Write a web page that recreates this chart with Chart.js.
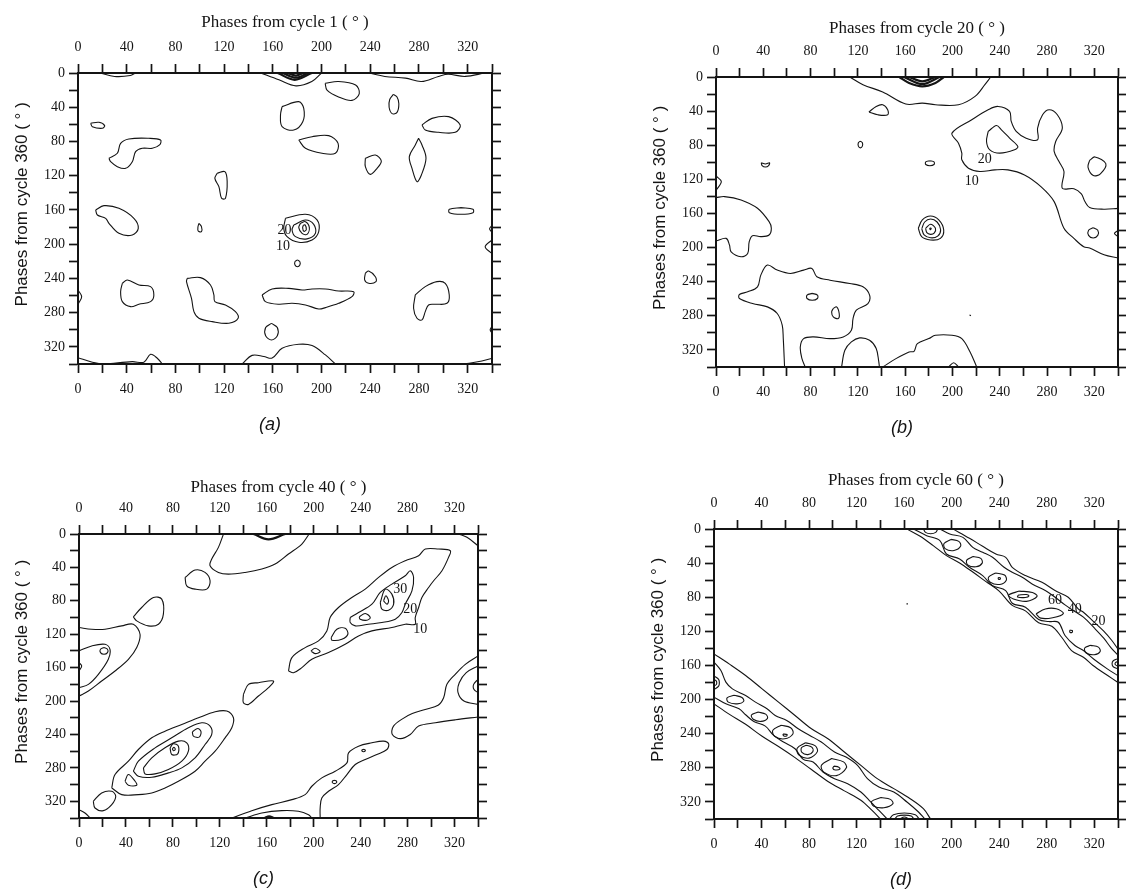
<!DOCTYPE html>
<html>
<head>
<meta charset="utf-8">
<script src="https://cdn.jsdelivr.net/npm/chart.js@4.4.1/dist/chart.umd.min.js"></script>
<style>
  html, body { margin: 0; padding: 0; background: #fff; }
  #wrap { position: relative; width: 1126px; height: 889px; overflow: hidden; background: #fff; }
  .panel { position: absolute; }
</style>
</head>
<body>
<div id="wrap">
  <div class="panel" id="p0"><canvas id="c0"></canvas></div>
  <div class="panel" id="p1"><canvas id="c1"></canvas></div>
  <div class="panel" id="p2"><canvas id="c2"></canvas></div>
  <div class="panel" id="p3"><canvas id="c3"></canvas></div>
</div>
<script>
// axes
const AXIS_MAX = 340;
const TICK_STEP = 20;
const LABEL_STEP = 40;
const topTitles = ['Phases from cycle 1 ( \u00b0 )', 'Phases from cycle 20 ( \u00b0 )',
                   'Phases from cycle 40 ( \u00b0 )', 'Phases from cycle 60 ( \u00b0 )'];
const sideTitle = 'Phases from cycle 360 ( \u00b0 )';
const captions = ['(a)', '(b)', '(c)', '(d)'];

// ---- panel (a): contours, [phase cycle 1, phase cycle 360] in degrees
const a01 = [[18,0],[30,4],[43,3],[47,0]];
const a02 = [[150,0],[165,8],[179,15],[192,10],[200,0]];
const a03 = [[164,0],[178,8],[192,0]];
const a04 = [[168,0],[179,5.5],[189,0]];
const a05 = [[172,0],[179,3],[185,0]];
const a06 = [[239,0],[252,4],[269,6],[282,10],[296,4],[304,1.5],[318,4],[334,0]];
const a07 = [[203,12],[214,10],[228,14],[231,24],[225,32],[214,28],[204.5,20],[203,12]];
const a08 = [[259,25],[262,28],[263.5,36],[262,46],[258,47.5],[255.5,40],[256,31],[259,25]];
const a09 = [[167.6,39.3],[181.3,33.5],[185.4,41.3],[184.6,56.9],[177.2,66.6],[167.6,62.7],[166.3,49.1],[167.6,39.3]];
const a10 = [[282.5,60.7],[290.7,53],[304.4,51],[313.9,60.7],[309.8,69.3],[296.1,69.3],[285.2,66.6],[282.5,60.7]];
const a11 = [[10.4,58.8],[17.2,57.6],[21.9,61.5],[20,64.6],[11.8,62.7],[10.4,58.8]];
const a12 = [[25.4,99.7],[32.3,93.8],[35,82.2],[41.8,77.1],[58.2,76.3],[67.8,78.3],[67,84.1],[61,88],[52.8,88],[47.3,91.9],[44.6,103.6],[39.1,111.4],[32.3,109.4],[26.8,103.6],[25.4,99.7]];
const a13 = [[181.3,78.3],[192.2,74.4],[205.9,73.2],[213.6,82.2],[211.4,93.8],[200.4,93.8],[186.8,88],[181.3,78.3]];
const a14 = [[236,99.7],[244.2,95.8],[249.1,102.8],[245.6,111.4],[240.1,118.4],[236,109.4],[236,99.7]];
const a15 = [[279.7,76.3],[282.5,84.1],[285.8,99.7],[282,119.2],[278.4,126.9],[274.3,111.4],[272.1,97.7],[277,84.1],[279.7,76.3]];
const a16 = [[114.3,117.2],[120.6,115.3],[122.5,126.9],[121.1,146.4],[117.9,146.4],[115.7,132.8],[112.4,123.1],[114.3,117.2]];
const a17 = [[14.5,160],[21.3,155],[33.6,158.1],[45.9,169.8],[49.5,181.5],[44.6,189.3],[33.6,187.3],[25.4,175.6],[22.7,169.8],[15.9,165.9],[14.5,160]];
const a18 = [[99.3,175.6],[101.4,179.5],[101.4,185.4],[98.7,184.6],[98.5,180],[99.3,175.6]];
const a19 = [[170.4,169.8],[186.8,165.1],[196.3,171.7],[197.7,185.4],[192.2,195.1],[181.3,197.8],[171.7,191.2],[169,181.5],[170.4,169.8]];
const a20 = [[177.2,177.6],[186.8,171.7],[193.6,176.8],[195,187.3],[188.1,193.8],[178.6,191.2],[175.8,183.4],[177.2,177.6]];
const a21 = [[182.7,175.6],[186.8,173.7],[190,180.7],[188.1,188.5],[184,187.3],[181.3,180.7],[182.7,175.6]];
const a22 = [[185,178],[186.5,177.5],[187.5,183],[185.5,185],[184.5,181],[185,178]];
const a23 = [[180.2,218.4],[182.2,220.4],[182.2,224.4],[180.2,226.4],[178.2,224.4],[178.2,220.4],[180.2,218.4]];
const a24 = [[36.4,245.7],[40.5,241.8],[50,247.7],[59.6,249.6],[62.3,259.3],[59.6,267.1],[50,270.2],[43.2,273],[36.4,267.1],[35,255.5],[36.4,245.7]];
const a25 = [[89.7,239.9],[100.6,239.1],[108.8,247.7],[111.6,259.3],[112.4,267.1],[121.1,271],[129.3,278.8],[131.5,286.6],[123.9,292.4],[110.2,290.5],[99.3,286.6],[95.2,278.8],[93.2,263.2],[89.1,243.8],[89.7,239.9]];
const a26 = [[151.2,259.3],[159.4,252.3],[173.1,251.6],[184,253.5],[192.2,252.3],[203.2,252.3],[214.1,254.7],[226.4,255.5],[225,261.3],[214.1,269.1],[203.2,274.1],[197.7,275.7],[186.8,271],[175.8,269.1],[164.9,270.2],[153.9,267.1],[151.2,259.3]];
const a27 = [[236,234],[238.7,231.3],[244.2,238],[244.7,243.8],[238.7,245.7],[235.4,241.8],[236,234]];
const a28 = [[277,259.3],[285.2,249.6],[294.8,243.8],[301.6,245.7],[304.9,259.3],[303,269.1],[293.4,270.2],[287.9,271],[285.2,278.8],[282.5,288.5],[278.4,286.6],[275.6,274.9],[277,259.3]];
const a29 = [[158.9,292.5],[163.7,297.4],[163.7,307],[158.9,311.9],[154.1,307],[154.1,297.4],[158.9,292.5]];
const a30 = [[134.8,340],[143,329.9],[152.6,331.2],[159.4,333.1],[167.6,321.7],[181.3,317],[192.2,318.5],[203.2,329.4],[211.4,340]];
const a31 = [[0,332.6],[11.8,338],[20,340]];
const a32 = [[26.8,339.5],[44.6,337.2],[54.1,338],[59.6,328.7],[65.1,333.3],[69.2,340]];
const a33 = [[319.4,339.5],[331.7,336.4],[340,333.3]];
const a34 = [[340,178],[338,182],[340,186]];
const a35 = [[340,195],[334.4,203],[340,211]];
const a36 = [[340,296],[338.5,300],[340,304]];
const a37 = [[0,253.5],[3,261.3],[0.5,269]];
const a38 = [[314.7,157.3],[324.4,159.2],[324.4,163.2],[314.7,165.1],[305,163.2],[305,159.2],[314.7,157.3]];
const labelsA = [{t:'20', x:169.5, y:184}, {t:'10', x:168.4, y:202}];

// ---- panel (b)
const b01 = [[113.2,0],[124.3,9],[141,17.6],[160.5,31.7],[174.5,30.6],[185.6,32.5],[205.1,32.5],[219.1,22.7],[227.4,9],[232.4,0]];
const b02 = [[155,0],[163.3,7],[174.5,11],[185.6,7],[192.6,0]];
const b03 = [[159,0],[174.5,8.2],[189,0]];
const b04 = [[163.3,0],[174.5,5.1],[185.6,0]];
const b05 = [[129.3,41.1],[135.5,34.5],[141,32.5],[145.2,38.4],[145.2,44.3],[136.8,44.3],[129.3,41.1]];
const b06 = [[122.1,75.1],[123.8,77.1],[123.8,81.1],[122.1,83.1],[120.4,81.1],[120.4,77.1],[122.1,75.1]];
const b07 = [[38.3,100.5],[41.8,102],[45.3,100.5],[44.5,104],[41.8,105.6],[39,104],[38.3,100.5]];
const b08 = [[180.9,98.1],[184.4,99.6],[184.4,102.6],[180.9,104.1],[177.4,102.6],[177.4,99.6],[180.9,98.1]];
const b09 = [[171.1,177.4],[174.5,167.6],[181.4,163],[188.4,167.6],[192.6,179.4],[189.8,189.2],[181.4,191.1],[173.9,187.2],[171.1,177.4]];
const b10 = [[174,178],[176.5,170],[181.5,166.5],[187,170],[190,179],[187.5,186.5],[181.5,188.5],[176,185],[174,178]];
const b11 = [[177.3,177.4],[181.4,172.7],[185.6,177.4],[184.5,183],[181.4,184.5],[178.3,182.5],[177.3,177.4]];
const b12 = [[181,177],[182,177.5],[181.5,179],[180.8,178],[181,177]];
const b13 = [[0,116],[4.5,122.6],[0,133]];
const b14 = [[0,141.4],[7.2,140.2],[21.2,144.1],[35.1,153.9],[44.9,169.6],[46.8,177.4],[44.9,185.3],[37.9,187.2],[30.9,186.1],[28.1,193.1],[26.8,206.8],[21.2,210.7],[12.8,204.9],[11.4,197],[8.6,189.2],[0,192.3]];
const b15 = [[340,154],[328,155],[316,153],[312,146],[309,137],[302.7,131],[292.9,130.4],[294.3,110.8],[290.1,99.1],[286,87.3],[287.3,75.6],[292.9,59.9],[288.7,44.3],[281.8,38.4],[276.2,44.3],[272,59.9],[272,73.6],[262.3,71.7],[253.9,63.8],[249.7,52.1],[248.3,40.3],[238.6,34.5],[230.2,38.4],[216.3,50.1],[199.6,65.8],[205.1,77.6],[207.9,89.3],[207.9,97.1],[213.5,106.9],[223.2,110.8],[235.8,108.9],[246.9,108.9],[260.9,114.8],[274.8,128.5],[286,146.1],[294.3,177.4],[302.7,189.2],[311,199],[316,200.5],[328.2,208.4],[340,212.3]];
const b16 = [[230.2,63.8],[237.2,56.8],[241.4,61.9],[248.3,71.7],[255.3,81.5],[252.5,85.4],[240,89.3],[231.6,85.4],[228.8,75.6],[230.2,63.8]];
const b17 = [[316,97.7],[320.5,93.7],[329.7,101.6],[325.1,113.5],[319.1,115.5],[314.6,105.6],[316,97.7]];
const b18 = [[319,176.7],[322.9,179.7],[322.9,185.7],[319,188.7],[315.1,185.7],[315.1,179.7],[319,176.7]];
const b19 = [[340,180],[337,183.5],[340,187]];
const b20 = [[58,340],[56.9,306.7],[56,291],[51.8,277.3],[43.5,269.5],[30.9,265.6],[19.8,259.7],[19.8,255],[26.8,251.9],[35.1,246],[37.9,232.3],[43.5,220.5],[51.8,226.4],[63,230.3],[74.1,226.4],[81.1,224.4],[85.3,234.2],[96.4,238.2],[113.2,242.1],[124.3,246],[129.9,255.8],[128.5,265.6],[118.7,273.4],[115.9,283.2],[114.5,296.9],[107.6,304.7],[96.4,306.7],[82.5,304.7],[74.1,306.7],[71.3,316.5],[72.7,330.2],[75.5,340]];
const b21 = [[81.4,253.7],[85.8,255.7],[85.8,259.7],[81.4,261.7],[77,259.7],[77,255.7],[81.4,253.7]];
const b22 = [[99.2,271.4],[102,269.5],[104.2,277.3],[103.4,283.2],[99.2,281.2],[97.8,275.4],[99.2,271.4]];
const b23 = [[106.2,340],[109,320.4],[114.5,310.6],[121.5,305.9],[129.9,308.7],[135.5,318.4],[137.7,334.1],[138.2,340]];
const b24 = [[141,340],[152.2,330.2],[163.3,322.4],[167.5,321.6],[170.3,312.6],[180,306.7],[185.6,302.8],[199.6,302.8],[207.9,306.7],[214.9,322.4],[220.5,340]];
const b25 = [[196.8,340],[201,335],[205.1,340]];
const b26 = [[214.4,279],[215.6,279.8]];
const labelsB = [{t:'20', x:227.4, y:96}, {t:'10', x:216.3, y:121.8}];

// ---- panel (c)
const c01 = [[148.7,0],[161.5,6.4],[175.7,0]];
const c02 = [[123.1,0],[118.8,16],[113.1,30],[111.7,38],[118.8,46],[127.3,48],[141.6,46],[155.8,42],[167.1,36],[178.5,24],[189.9,12],[196.1,0]];
const c03 = [[90.4,52],[98.9,43.2],[107.4,46],[111.7,56],[108.9,66],[98.9,66],[91.8,62],[90.4,52]];
const c04 = [[323.5,0],[330.6,4],[340,14]];
const c05 = [[178.5,164],[181.4,148],[192.7,136],[204.1,128],[211.2,116],[214,100],[221.1,88],[232.5,76],[243.9,66],[255.3,52],[266.6,40],[278,32],[289.4,26],[295.1,18],[306.4,18],[316.4,20],[314.9,28],[309.3,44],[302.2,56],[297.9,64],[292.2,76],[289.4,88],[286.5,100],[286.5,108],[278,108],[266.6,112],[249.6,116],[238.2,122],[226.8,132],[212.6,142],[198.4,150],[189.9,160],[182.8,166],[178.5,164]];
const c06 = [[231.1,100],[238.2,94],[249.6,84],[256.7,70],[266.6,60],[278,50],[282.3,44],[285.1,52],[283.7,68],[278,84],[275.2,94],[269.5,102],[258.1,106],[246.7,108],[235.4,110],[231.1,106],[231.1,100]];
const c07 = [[256.7,82],[261,66],[266.6,72],[268.1,84],[263.8,91.2],[258.1,90],[256.7,82]];
const c08 = [[259.5,80],[261.5,74],[263.8,80],[262.4,84],[259.5,80]];
const c09 = [[238.8,99.2],[243.9,95.2],[248.2,100],[245.3,103.2],[239.6,102],[238.8,99.2]];
const c10 = [[214.9,124],[219.7,114],[226.8,112.8],[229.1,120],[224,126],[215.5,127.2],[214.9,124]];
const c11 = [[197.6,140],[201.2,136.8],[205.5,140.8],[201.2,143.2],[197.6,140]];
const c12 = [[140.1,192],[144.4,180],[152.9,178],[165.7,176],[161.5,184],[152.9,194],[144.4,204],[140.1,202],[140.1,192]];
const c13 = [[46.3,99.2],[53.4,88],[63.4,76],[70.5,78],[71.9,96],[67.7,108],[59.1,110],[49.2,104],[46.3,99.2]];
const c14 = [[0,112],[10.8,114],[22.2,114],[36.4,110],[46.3,108],[52,120],[49.2,136],[42.1,150],[30.7,164],[19.3,176],[8,188],[0,194]];
const c15 = [[0,140],[10.8,134],[22.2,132],[26.4,138],[25,150],[16.5,168],[8,180],[0,184]];
const c16 = [[21.3,136],[24.3,138],[24.3,142],[21.3,144],[18.3,142],[18.3,138],[21.3,136]];
const c17 = [[0,154],[2.3,158],[0,164]];
const c18 = [[27.9,304],[30.7,288],[42.1,272],[50.6,258],[62,244],[73.3,236],[87.6,228],[101.8,220],[116,212.8],[125.9,212],[131.6,220],[130.2,232],[124.5,244],[116,260],[107.4,272],[98.9,284],[84.7,296],[73.3,304],[62,310],[50.6,312],[36.4,312],[27.9,304]];
const c19 = [[46.3,284],[50.6,272],[64.8,256],[79,244],[93.2,232],[104.6,226],[111.7,230],[113.1,240],[107.4,252],[98.9,268],[87.6,280],[76.2,286],[62,291.2],[50.6,290],[46.3,284]];
const c20 = [[54.9,280],[62,268],[73.3,256],[84.7,248],[91.8,250],[93.2,260],[87.6,272],[76.2,282],[64.8,287.2],[56.3,287.2],[54.9,280]];
const c21 = [[77.6,256],[80.4,251.2],[84.7,254],[84.1,263.2],[79,264],[77.6,256]];
const c22 = [[79.5,257],[81,255.5],[82,258],[80.5,259.5],[79.5,257]];
const c23 = [[96.6,236.8],[101.2,232.8],[104,236.8],[102.3,243.2],[97.5,242],[96.6,236.8]];
const c24 = [[39.2,296],[42.1,288],[47.8,296],[49.2,300.8],[42.1,300.8],[39.2,296]];
const c25 = [[12.2,320],[19.3,310],[27.9,308],[31.3,314],[27.9,324],[20.7,331.2],[13.6,328],[12.2,320]];
const c26 = [[0,330],[5.1,334],[9.4,340]];
const c27 = [[130.2,340],[147.2,331.2],[164.3,324],[181.4,318],[192.7,312],[198.4,302],[206.9,292],[218.3,284],[228.3,274],[229.7,262],[238.2,254],[249.6,250],[259.5,248],[263.8,251.2],[262.4,258],[253.8,264],[243.9,270],[235.4,276],[228.3,288],[221.1,300],[212.6,308],[206.9,316],[205.5,328],[205.5,340]];
const c28 = [[141.6,340],[155.8,334],[172.8,331.2],[187,332],[195.6,336],[198.4,340]];
const c29 = [[158,340],[162,338],[166,340]];
const c30 = [[217.7,294.8],[219.4,295.8],[219.4,297.8],[217.7,298.8],[216,297.8],[216,295.8],[217.7,294.8]];
const c31 = [[242.5,257.7],[243.8,258.5],[243.8,260],[242.5,260.7],[241.2,260],[241.2,258.5],[242.5,257.7]];
const c32 = [[340,146],[329.2,156],[320.6,168],[313.5,180],[310.7,196],[306,205],[295,210],[284,215],[276,221],[268,230],[267,240],[274,245],[282.3,240],[289.4,230],[303.7,226],[320.9,222.4],[340,219]];
const c33 = [[340,174],[336.3,180],[336.5,186],[340,190]];
const c34 = [[340,158],[330,166],[324,178],[323,190],[328,200],[340,204]];
const labelsC = [{t:'30', x:273.7, y:66}, {t:'20', x:282.3, y:90}, {t:'10', x:290.8, y:114}];

// ---- panel (d)
const d01 = [[0,146.4],[12.7,158.1],[26.6,171.7],[40.5,187.4],[54.3,203],[68.2,218.6],[82,234.2],[95.9,245.9],[109.7,261.5],[123.6,277.1],[137.4,292.7],[151.3,304.4],[165.1,316.2],[176.2,327.9],[182.3,340]];
const d02 = [[0,205],[12.7,217],[26.6,229],[40.5,243],[54.3,255],[68.2,268],[82,282],[95.9,296],[109.7,307],[123.6,318],[133,330],[140.2,340]];
const d03 = [[0,156.1],[5.8,165.9],[10,179.5],[15.5,187.4],[26.6,195.2],[34.9,203],[44.6,210.8],[51.5,218.6],[61.2,224.4],[70.9,234.2],[80.6,242],[90.3,249.8],[101.4,261.5],[111.1,267.4],[120.8,277.1],[129.1,292.7],[138.8,302.5],[151.3,308.4],[162.4,320.1],[172.1,331.8],[177.6,340]];
const d04 = [[0,197.1],[10,204.9],[21.1,210.8],[26.6,217.8],[33.5,225.6],[43.2,231.1],[50.2,242],[58.5,249.8],[68.2,257.6],[75.1,270.1],[83.4,273.2],[91.7,284.9],[101.4,292.7],[112.5,298.6],[123.6,308.4],[131.9,320],[138.8,330],[145.7,340]];
const d05 = [[17,195],[23.5,197.5],[25,202],[19.5,205],[12,203],[11,198],[17,195]];
const d06 = [[37,214.6],[43.5,217],[45,222],[39.5,225.6],[33,223],[31.5,218],[37,214.6]];
const d07 = [[56.5,230],[64.5,233],[66.5,240],[59.5,246],[51,243],[49.5,236],[56.5,230]];
const d08 = [[58,240.3],[61.5,241],[61,242.8],[58.5,242.3],[58,240.3]];
const d09 = [[77,250.6],[85,254],[87,261],[80,268.6],[71.5,265],[70,257],[77,250.6]];
const d10 = [[77.7,253.5],[82.5,256],[83.2,261],[79,264.5],[74,262],[73.6,256.5],[77.7,253.5]];
const d11 = [[99,269.1],[109,273],[111.4,280],[103,289.1],[92.5,285],[90.4,277],[99,269.1]];
const d12 = [[101,278],[105,279.2],[106,281.5],[102,282.5],[100,280.5],[101,278]];
const d13 = [[140.5,314.8],[148.5,317],[150.6,322],[143,326.8],[134.5,325],[132.6,319.5],[140.5,314.8]];
const d14 = [[0,172.3],[3.9,176.3],[4.5,180.3],[3.9,184.3],[0,188.3]];
const d15 = [[0,176.5],[2,178.3],[2.3,180.3],[2,182.3],[0,184]];
const d16 = [[147.7,340],[151,335],[160.2,333],[169.4,335],[172.7,340]];
const d17 = [[152.2,340],[154.5,336.5],[160.2,335.5],[166,336.5],[168.2,340]];
const d18 = [[156.2,340],[160.2,337.6],[164.2,340]];
const d19 = [[201.2,0],[215,10.9],[226.1,20.3],[237.2,29.3],[245.5,33.2],[251,44.9],[262.1,54.6],[276,62.5],[287,72.2],[298.1,80],[306.5,93.7],[310.9,97.6],[319,108],[328,119.7],[335,131],[340,141]];
const d20 = [[190.1,0],[198.4,5.9],[209.5,9.8],[217.8,21.5],[226.1,27.3],[234.4,33.2],[244.1,44.9],[251,50.8],[259.4,56.6],[267.7,64.4],[278.8,72.2],[287,80],[295.4,89],[303.7,96.8],[310.9,103.4],[320,116],[328,128],[334,139],[340,148]];
const d21 = [[167.9,0],[179,7.8],[190.1,13.7],[195.6,29.3],[206.7,35.1],[215,44.9],[226.1,54.6],[234.4,66.4],[245.5,72.2],[251,87],[262.1,91.7],[273.2,106],[281.5,108.5],[289.8,109.3],[295.4,124.9],[303.7,136.6],[310.9,142.5],[320,153],[331,164],[340,172]];
const d22 = [[162.4,0],[173.5,8.6],[184.5,19.5],[195.6,31.2],[206.7,39.8],[217.8,50.5],[228.9,61.7],[240,72.8],[251,89.5],[262.1,96],[273.2,110],[284.3,114],[292.6,126.9],[300.9,142.5],[310.9,150.3],[319,160],[331,171.5],[340,180]];
const d23 = [[199.5,12.2],[206,14.5],[207.6,20],[202,25.2],[194.5,23],[193.6,17],[199.5,12.2]];
const d24 = [[218,32.3],[224.5,34.5],[225.7,40],[220.5,44.3],[213.5,42],[212.7,36.5],[218,32.3]];
const d25 = [[237,51.5],[244.5,54],[246,60],[240.5,65],[232.5,62.5],[231,56.5],[237,51.5]];
const d26 = [[239.2,56.8],[241,57.2],[240.8,58.8],[239.3,58.6],[239.2,56.8]];
const d27 = [[257,72.8],[268,74.5],[271.9,79],[263,84.8],[252,82],[247.9,77.5],[257,72.8]];
const d28 = [[256,77.5],[263,76.8],[265,78.5],[262,80.3],[255.5,79.8],[256,77.5]];
const d29 = [[271,99.5],[278.8,93.7],[288,93.5],[294,99],[285,104],[275,104.5],[271,99.5]];
const d30 = [[299.4,118.6],[301.5,119],[301.5,121],[299.5,121],[299.4,118.6]];
const d31 = [[317,136.4],[323.5,138.5],[325,143.5],[320,147.4],[313,145],[312,139.5],[317,136.4]];
const d32 = [[340,152],[336,154.5],[335,158],[336,161.5],[340,164]];
const d33 = [[340,155],[337.8,156.8],[337.8,159.2],[340,161]];
const d34 = [[176.3,0],[178,4],[182.3,5.5],[186.6,4],[188.3,0]];
const d35 = [[162,87.8],[163.2,87.8]];
const labelsD = [{t:'60', x:287, y:84}, {t:'40', x:303.7, y:93.7}, {t:'20', x:323.6, y:108}];

const contoursA = [a01,a02,a03,a04,a05,a06,a07,a08,a09,a10,a11,a12,a13,a14,a15,a16,a17,a18,a19,a20,a21,a22,a23,a24,a25,a26,a27,a28,a29,a30,a31,a32,a33,a34,a35,a36,a37,a38];
const contoursB = [b01,b02,b03,b04,b05,b06,b07,b08,b09,b10,b11,b12,b13,b14,b15,b16,b17,b18,b19,b20,b21,b22,b23,b24,b25,b26];
const contoursC = [c01,c02,c03,c04,c05,c06,c07,c08,c09,c10,c11,c12,c13,c14,c15,c16,c17,c18,c19,c20,c21,c22,c23,c24,c25,c26,c27,c28,c29,c30,c31,c32,c33,c34];
const contoursD = [d01,d02,d03,d04,d05,d06,d07,d08,d09,d10,d11,d12,d13,d14,d15,d16,d17,d18,d19,d20,d21,d22,d23,d24,d25,d26,d27,d28,d29,d30,d31,d32,d33,d34,d35];
const heavy = [a03,a04,a05,b02,b03,b04,c01,c29];

// where each panel sits on the page and how big its axis strips are
const boxes = [
  {left:0,   top:0,   w:506, h:438, la:78, ta:73, ra:14, ba:74, tp:12.8},
  {left:638, top:0,   w:488, h:441, la:78, ta:77, ra:3,  ba:74, tp:18.8},
  {left:0,   top:461, w:492, h:431, la:79, ta:73, ra:14, ba:74, tp:16.8},
  {left:636, top:452, w:490, h:441, la:78, ta:77, ra:3,  ba:74, tp:18.8}
];

const INK = '#141414';
const SERIF = '"Liberation Serif", "DejaVu Serif", serif';
const SANS = '"Liberation Sans", Arial, sans-serif';
const NB = '\u00a0';

const contourLabels = {
  id: 'contourLabels',
  afterDatasetsDraw(chart, args, opts) {
    const {ctx, scales} = chart;
    ctx.save();
    ctx.font = '14px ' + SERIF;
    ctx.fillStyle = INK;
    ctx.textAlign = 'center';
    ctx.textBaseline = 'middle';
    (opts.items || []).forEach(l => {
      ctx.fillText(l.t, scales.x.getPixelForValue(l.x), scales.y.getPixelForValue(l.y));
    });
    ctx.restore();
  }
};

function tickOpts(show, pad) {
  return {
    display: show, stepSize: TICK_STEP, padding: pad, autoSkip: false,
    maxRotation: 0, minRotation: 0, color: INK,
    font: {family: SERIF, size: 14},
    callback: v => (v % LABEL_STEP === 0 ? String(v) : '')
  };
}

function drawPanel(i, contours, labels) {
  const g = boxes[i];
  const div = document.getElementById('p' + i);
  div.style.left = g.left + 'px';
  div.style.top = g.top + 'px';
  div.style.width = g.w + 'px';
  div.style.height = g.h + 'px';

  const datasets = contours.map(c => ({
    data: c.map(p => ({x: p[0], y: p[1]})),
    showLine: true,
    pointRadius: 0,
    borderColor: INK,
    borderWidth: heavy.includes(c) ? 2.2 : 1.1,
    tension: 0.35,
    fill: false
  }));

  const grid = {display: true, drawOnChartArea: false, drawTicks: true, tickLength: 9,
                tickWidth: 1.7, tickColor: INK, color: INK};
  const border = {display: true, color: INK, width: 2};

  new Chart(document.getElementById('c' + i), {
    type: 'scatter',
    data: {datasets},
    options: {
      responsive: true,
      maintainAspectRatio: false,
      animation: false,
      events: [],
      layout: {padding: 0},
      plugins: {
        legend: {display: false},
        tooltip: {enabled: false},
        contourLabels: {items: labels}
      },
      scales: {
        x: {
          type: 'linear', position: 'bottom', min: 0, max: AXIS_MAX,
          ticks: tickOpts(true, 8), grid, border,
          title: {display: true, text: captions[i] + NB.repeat(6), color: INK,
                  font: {family: SANS, size: 18, style: 'italic'}, padding: {top: 0, bottom: 2}},
          afterFit: s => { s.height = g.ba; }
        },
        x2: {
          type: 'linear', position: 'top', min: 0, max: AXIS_MAX,
          ticks: tickOpts(true, 8), grid, border,
          title: {display: true, text: topTitles[i], color: INK,
                  font: {family: SERIF, size: 17}, padding: {top: g.tp, bottom: 0}},
          afterFit: s => { s.height = g.ta; }
        },
        y: {
          type: 'linear', position: 'left', reverse: true, min: 0, max: AXIS_MAX,
          ticks: tickOpts(true, 4), grid, border,
          title: {display: true, text: NB.repeat(6) + sideTitle, color: INK,
                  font: {family: SANS, size: 17}, padding: {top: 11.8, bottom: 0}},
          afterFit: s => { s.width = g.la; }
        },
        y2: {
          type: 'linear', position: 'right', reverse: true, min: 0, max: AXIS_MAX,
          ticks: tickOpts(false, 0), grid, border,
          afterFit: s => { s.width = g.ra; }
        }
      }
    },
    plugins: [contourLabels]
  });
}

drawPanel(0, contoursA, labelsA);
drawPanel(1, contoursB, labelsB);
drawPanel(2, contoursC, labelsC);
drawPanel(3, contoursD, labelsD);
</script>
</body>
</html>
